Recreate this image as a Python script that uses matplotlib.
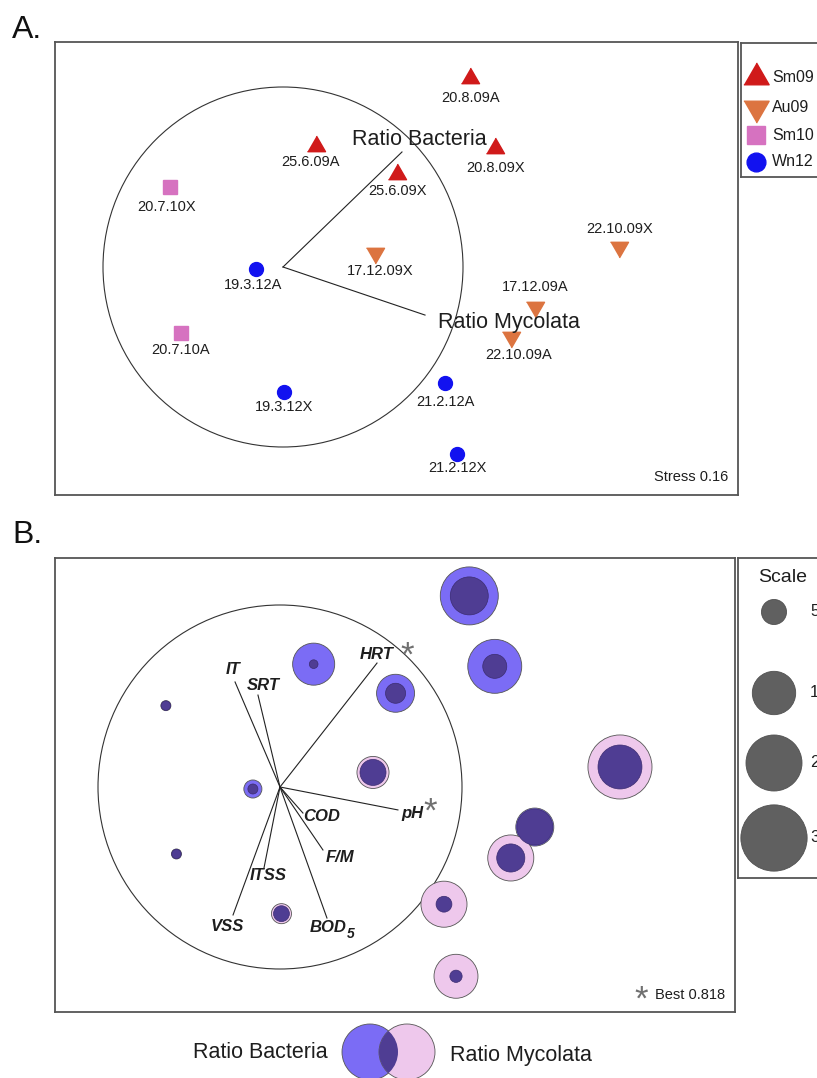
import numpy as np
import matplotlib
matplotlib.use("Agg")
import matplotlib.pyplot as plt
from matplotlib.patches import Circle

plt.rcParams['font.family'] = ['Liberation Sans', 'DejaVu Sans']

# ---------------- data ----------------
samples = ["20.8.09A", "25.6.09A", "20.8.09X", "25.6.09X",
           "17.12.09X", "22.10.09X", "17.12.09A", "22.10.09A",
           "20.7.10X", "20.7.10A",
           "19.3.12A", "19.3.12X", "21.2.12A", "21.2.12X"]
groups = ["Sm09"] * 4 + ["Au09"] * 4 + ["Sm10"] * 2 + ["Wn12"] * 4
nmds_x = [1.04, 0.185, 1.18, 0.635, 0.511, 1.868, 1.40, 1.268,
          -0.627, -0.569, -0.149, 0.008, 0.901, 0.967]
nmds_y = [1.05, 0.675, 0.663, 0.515, 0.08, 0.11, -0.22, -0.39,
          0.447, -0.368, -0.011, -0.696, -0.644, -1.04]

ratio_bacteria = [26.8, 14.1, 23.2, 11.5, 5.4, 15.4, 11.5, 6.3,
                  0.8, 0.8, 2.6, 2.0, 2.0, 1.2]
ratio_mycolata = [11.5, 0.6, 4.6, 3.2, 8.2, 32.7, 10.3, 16.9,
                  0.7, 0.7, 0.8, 3.2, 16.9, 15.4]

ratio_vectors = ["Ratio Bacteria", "Ratio Mycolata"]
ratio_vx = [0.661, 0.789]
ratio_vy = [0.639, -0.267]

env_vars = ["IT", "SRT", "HRT", "pH", "COD", "F/M", "BOD", "ITSS", "VSS"]
env_vx = [-0.247, -0.121, 0.533, 0.648, 0.126, 0.236, 0.258, -0.088, -0.258]
env_vy = [0.577, 0.505, 0.681, -0.126, -0.143, -0.346, -0.720, -0.445, -0.703]
env_best = ["HRT", "pH"]

scale_values = [5, 15, 25, 35]
stress = 0.16
best_rho = 0.818

# ---------------- styles / layout ----------------
W, H = 817, 1078
fig = plt.figure(figsize=(W / 100, H / 100), dpi=100)

TRI_UP = [(-1, -0.577), (1, -0.577), (0, 1.155)]
TRI_DN = [(-1, 0.577), (1, 0.577), (0, -1.155)]
group_style = {
    "Sm09": dict(marker=TRI_UP, color="#d01a1a", ms=15, lms=21),
    "Au09": dict(marker=TRI_DN, color="#dc7440", ms=15, lms=21),
    "Sm10": dict(marker="s", color="#d672c0", ms=10, lms=12.5),
    "Wn12": dict(marker="o", color="#1212f0", ms=10, lms=13.5),
}
label_offsets = {
    "20.8.09A": (0, -20), "25.6.09A": (-6, -17), "20.8.09X": (0, -20),
    "25.6.09X": (0, -17), "17.12.09X": (5, -18), "22.10.09X": (0, 18),
    "17.12.09A": (0, 20), "22.10.09A": (7, -18), "20.7.10X": (-4, -20),
    "20.7.10A": (0, -17), "19.3.12A": (-3, -16), "19.3.12X": (0, -15),
    "21.2.12A": (0, -19), "21.2.12X": (0, -14),
}
env_label_offsets = {
    "IT": (-2, 12, "center"), "SRT": (5, 10, "center"), "HRT": (0, 9, "center"),
    "pH": (14, -4, "center"), "COD": (19, -3, "center"), "F/M": (17, -8, "center"),
    "BOD": (20, -9, "right"), "ITSS": (4, -8, "center"), "VSS": (-6, -12, "center"),
}
star_offsets = {"HRT": (30, 7), "pH": (32, -2)}

C_BACT = "#7b6cf5"
C_MYCO = "#eec8ec"
C_BOTH = "#4f3d93"
EDGE = "#555555"
SPINE = "#555555"
TXT = "#1e1e1e"
STAR = "#707070"


def px_axes(x0, y0, x1, y1):
    return fig.add_axes([x0 / W, 1 - y1 / H, (x1 - x0) / W, (y1 - y0) / H])


def frame(ax):
    ax.set_xticks([])
    ax.set_yticks([])
    for s in ax.spines.values():
        s.set_color(SPINE)
        s.set_linewidth(1.3)


def bubble_radius(v, unit):
    # bubble area proportional to the ratio value
    return 5.6 * np.sqrt(v) / unit


# ---------------- panel A: NMDS ----------------
oxA, oyA, sA = 283, 267, 180
axA = px_axes(55, 42, 738, 495)
axA.set_xlim((55 - oxA) / sA, (738 - oxA) / sA)
axA.set_ylim((oyA - 495) / sA, (oyA - 42) / sA)
frame(axA)

axA.add_patch(Circle((0, 0), 1.0, fill=False, ec="#333333", lw=0.8))
for name, vx, vy in zip(ratio_vectors, ratio_vx, ratio_vy):
    axA.plot([0, vx], [0, vy], color="#222222", lw=0.8)
axA.annotate(ratio_vectors[0], (ratio_vx[0], ratio_vy[0]), xytext=(17, 12),
             textcoords="offset pixels", ha="center", va="center", fontsize=15.5, color=TXT)
axA.annotate(ratio_vectors[1], (ratio_vx[1], ratio_vy[1]), xytext=(13, -7),
             textcoords="offset pixels", ha="left", va="center", fontsize=15.5, color=TXT)

for g in group_style:
    st = group_style[g]
    xs = [x for x, gg in zip(nmds_x, groups) if gg == g]
    ys = [y for y, gg in zip(nmds_y, groups) if gg == g]
    axA.plot(xs, ys, linestyle="none", marker=st["marker"], ms=st["ms"],
             color=st["color"], mec=st["color"])
for name, x, y in zip(samples, nmds_x, nmds_y):
    dx, dy = label_offsets[name]
    axA.annotate(name, (x, y), xytext=(dx, dy), textcoords="offset pixels",
                 ha="center", va="center", fontsize=10.5, color=TXT)
axA.text(0.986, 0.025, f"Stress {stress:.2f}", transform=axA.transAxes,
         ha="right", va="bottom", fontsize=10.5, color=TXT)

# legend of panel A
axL = px_axes(741, 43, 840, 177)
axL.set_xlim(741, 840)
axL.set_ylim(177, 43)
frame(axL)
for g, yy in zip(group_style, [77, 108, 135, 162]):
    st = group_style[g]
    axL.plot([756], [yy], linestyle="none", marker=st["marker"], ms=st["lms"],
             color=st["color"], mec=st["color"])
    axL.text(772, yy, g, ha="left", va="center", fontsize=11.5, color=TXT)

# ---------------- panel B: bubbles + environmental vectors ----------------
oxB, oyB, sB = 280, 787, 182
axB = px_axes(55, 558, 735, 1012)
axB.set_xlim((55 - oxB) / sB, (735 - oxB) / sB)
axB.set_ylim((oyB - 1012) / sB, (oyB - 558) / sB)
frame(axB)

axB.add_patch(Circle((0, 0), 1.0, fill=False, ec="#333333", lw=0.8, zorder=1))

for x, y, b, m in zip(nmds_x, nmds_y, ratio_bacteria, ratio_mycolata):
    rb = bubble_radius(b, sB)
    rm = bubble_radius(m, sB)
    if rb >= rm:
        axB.add_patch(Circle((x, y), rb, fc=C_BACT, ec=EDGE, lw=0.6, zorder=3))
        axB.add_patch(Circle((x, y), rm, fc=C_BOTH, ec="#3b2c70", lw=0.5, zorder=4))
    else:
        axB.add_patch(Circle((x, y), rm, fc=C_MYCO, ec=EDGE, lw=0.6, zorder=3))
        axB.add_patch(Circle((x, y), rb, fc=C_BOTH, ec="#3b2c70", lw=0.5, zorder=4))

for name, vx, vy in zip(env_vars, env_vx, env_vy):
    axB.plot([0, vx], [0, vy], color="#222222", lw=0.8, zorder=2)
    dx, dy, ha = env_label_offsets[name]
    axB.annotate(name, (vx, vy), xytext=(dx, dy), textcoords="offset pixels",
                 ha=ha, va="center", fontsize=12, fontweight="bold",
                 fontstyle="italic", color=TXT, zorder=5)
    if name == "BOD":
        axB.annotate("5", (vx, vy), xytext=(dx, dy - 7), textcoords="offset pixels",
                     ha="left", va="center", fontsize=10, fontweight="bold",
                     fontstyle="italic", color=TXT, zorder=5)
    if name in env_best:
        sx, sy = star_offsets[name]
        axB.annotate("*", (vx, vy), xytext=(sx, sy), textcoords="offset pixels",
                     ha="center", va="center", fontsize=25, color=STAR, zorder=5)

axB.text(0.862, 0.026, "*", transform=axB.transAxes, ha="center", va="center",
         fontsize=25, color=STAR)
axB.text(0.986, 0.022, f"Best {best_rho:.3f}", transform=axB.transAxes,
         ha="right", va="bottom", fontsize=10.5, color=TXT)

# scale box
axS = px_axes(738, 558, 840, 878)
axS.set_xlim(738, 840)
axS.set_ylim(878, 558)
frame(axS)
axS.text(783, 578, "Scale", ha="center", va="center", fontsize=14, color=TXT)
for v, yy in zip(scale_values, [612, 693, 763, 838]):
    axS.add_patch(Circle((774, yy), bubble_radius(v, 1.0), fc="#606060", ec="#505050", lw=0.6))
    axS.text(810, yy, str(v), ha="left", va="center", fontsize=12, color=TXT)

# ---------------- overlay: panel letters and colour key ----------------
axO = fig.add_axes([0, 0, 1, 1])
axO.set_xlim(0, W)
axO.set_ylim(H, 0)
axO.axis("off")
axO.text(12, 38, "A.", ha="left", va="baseline", fontsize=23, color="#111")
axO.text(12, 543, "B.", ha="left", va="baseline", fontsize=23, color="#111")

key_b = Circle((370, 1052), 28, fc=C_BACT, ec=EDGE, lw=0.6)
key_m = Circle((407, 1052), 28, fc=C_MYCO, ec=EDGE, lw=0.6)
axO.add_patch(key_b)
axO.add_patch(key_m)
key_both = Circle((407, 1052), 28, fc=C_BOTH, ec="none")
axO.add_patch(key_both)
key_both.set_clip_path(key_b)
axO.text(328, 1053, "Ratio Bacteria", ha="right", va="center", fontsize=15.5, color=TXT)
axO.text(450, 1055, "Ratio Mycolata", ha="left", va="center", fontsize=15.5, color=TXT)

fig.savefig("out.png", dpi=100)
